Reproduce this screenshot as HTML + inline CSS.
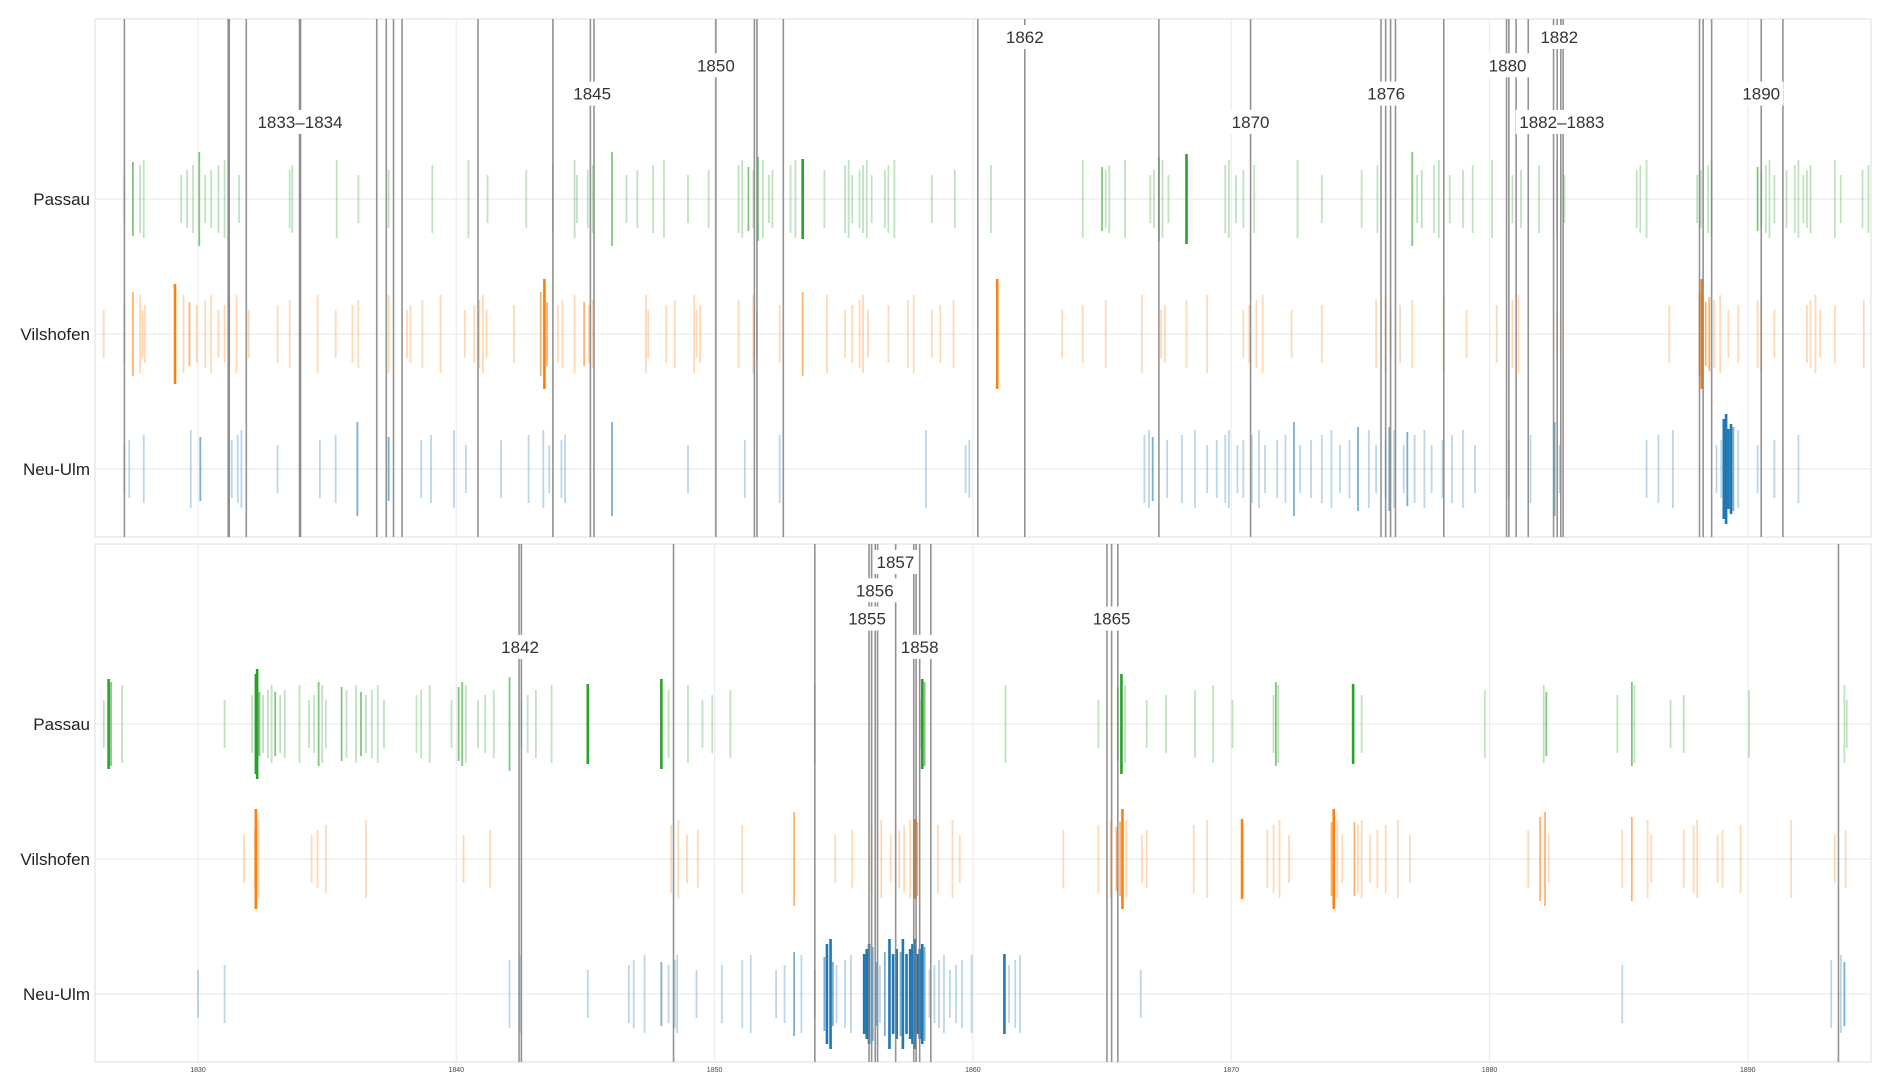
<!DOCTYPE html>
<html><head><meta charset="utf-8">
<style>
html,body{margin:0;padding:0;background:#fff;}
svg{display:block;font-family:"Liberation Sans",Arial,sans-serif;}
</style></head>
<body>
<svg id="chart" width="1892" height="1091" viewBox="0 0 1892 1091" xmlns="http://www.w3.org/2000/svg"></svg>
<script>
// ---- data ----
const stations = ["Passau","Vilshofen","Neu-Ulm"];
const stationColors = ["#2ca02c","#ff7f0e","#1f77b4"];
const xTicks = [1830,1840,1850,1860,1870,1880,1890];

// top panel events [year, strength]
const topPassau = [[1827.15,1],[1827.48,2],[1827.76,1],[1827.9,1],[1829.35,1],[1829.58,1],[1829.81,1],[1830.05,2],[1830.28,1],[1830.51,1],[1830.79,1],[1831.03,1],[1831.59,1],[1833.55,1],[1833.65,1],[1835.37,1],[1836.21,1],[1837.38,1],[1839.07,1],[1840.47,1],[1841.21,1],[1842.71,1],[1843.74,1],[1844.58,1],[1844.67,1],[1845.09,1],[1845.28,1],[1846.03,2],[1846.59,1],[1847.01,1],[1847.62,1],[1848.04,1],[1848.97,1],[1849.77,1],[1850.93,1],[1851.07,1],[1851.31,2],[1851.5,1],[1851.68,2],[1851.87,1],[1852.1,1],[1852.24,1],[1852.94,1],[1853.13,1],[1853.41,3],[1854.25,1],[1855.05,1],[1855.19,1],[1855.33,1],[1855.61,1],[1855.75,1],[1855.89,1],[1856.08,1],[1856.59,1],[1856.73,1],[1856.96,1],[1858.41,1],[1859.3,1],[1860.7,1],[1864.25,1],[1865.0,2],[1865.14,1],[1865.28,1],[1865.89,1],[1866.87,1],[1867.01,1],[1867.2,2],[1867.34,1],[1867.57,1],[1868.27,3],[1869.77,1],[1869.91,1],[1870.19,1],[1870.47,1],[1870.89,1],[1872.57,1],[1873.51,1],[1875.05,1],[1875.66,1],[1877.01,2],[1877.2,1],[1877.38,1],[1877.85,1],[1878.04,1],[1878.46,1],[1878.97,1],[1879.35,1],[1880.1,1],[1880.89,1],[1881.22,1],[1881.92,1],[1882.62,1],[1882.9,1],[1885.7,1],[1885.84,1],[1886.08,1],[1888.04,1],[1888.18,1],[1888.46,1],[1888.6,1],[1890.38,2],[1890.52,1],[1890.7,1],[1890.84,1],[1891.03,1],[1891.5,1],[1891.82,1],[1891.96,1],[1892.15,1],[1892.29,1],[1892.43,1],[1893.37,1],[1893.6,1],[1894.44,1],[1894.67,1]];
const topVilshofen = [[1826.35,1],[1827.15,1],[1827.48,2],[1827.76,1],[1827.85,1],[1827.94,1],[1829.11,3],[1829.44,1],[1829.67,2],[1829.95,1],[1830.28,1],[1830.51,1],[1830.79,1],[1831.03,1],[1831.21,1],[1831.49,1],[1831.96,1],[1833.08,1],[1833.55,1],[1834.63,1],[1835.33,1],[1835.98,1],[1836.21,1],[1837.38,1],[1838.09,1],[1838.23,1],[1838.69,1],[1839.39,1],[1840.33,1],[1840.7,1],[1840.89,1],[1841.03,1],[1841.17,1],[1842.24,1],[1843.27,2],[1843.41,3],[1843.51,2],[1843.93,1],[1844.11,1],[1844.58,1],[1844.95,2],[1845.14,1],[1845.28,1],[1847.34,1],[1847.43,1],[1848.13,1],[1848.46,1],[1849.21,1],[1849.3,1],[1849.44,1],[1850.93,1],[1851.5,1],[1851.64,1],[1852.52,1],[1853.41,2],[1854.35,1],[1855.05,1],[1855.33,1],[1855.61,1],[1855.75,1],[1855.94,1],[1856.73,1],[1857.48,1],[1857.71,1],[1858.41,1],[1858.74,1],[1859.25,1],[1860.94,3],[1863.46,1],[1864.25,1],[1865.14,1],[1866.54,1],[1867.29,1],[1867.43,1],[1868.27,1],[1869.07,1],[1870.47,1],[1870.7,1],[1870.98,1],[1871.22,1],[1872.34,1],[1873.51,1],[1875.61,1],[1875.98,1],[1876.17,1],[1876.54,1],[1877.01,1],[1878.23,1],[1879.11,1],[1880.28,1],[1880.89,1],[1881.12,1],[1882.62,1],[1886.96,1],[1888.13,2],[1888.22,3],[1888.37,2],[1888.51,2],[1888.69,1],[1888.93,1],[1889.25,1],[1889.63,1],[1890.38,1],[1890.52,1],[1891.03,1],[1892.29,1],[1892.43,1],[1892.62,1],[1892.8,1],[1893.37,1],[1894.49,1]];
const topNeuUlm = [[1827.15,1],[1827.34,1],[1827.9,1],[1829.72,1],[1830.09,2],[1831.31,1],[1831.54,1],[1831.68,1],[1833.08,1],[1834.72,1],[1835.33,1],[1836.17,2],[1837.38,2],[1838.64,1],[1839.02,1],[1839.91,1],[1840.37,1],[1841.73,1],[1842.8,1],[1843.37,1],[1843.6,1],[1844.07,1],[1844.21,1],[1846.03,2],[1848.97,1],[1851.17,1],[1852.52,1],[1858.18,1],[1859.72,1],[1859.86,1],[1866.64,1],[1866.82,1],[1866.96,2],[1867.52,1],[1868.09,1],[1868.6,1],[1869.07,1],[1869.44,1],[1869.77,1],[1869.91,1],[1870.24,1],[1870.47,1],[1870.8,1],[1871.08,1],[1871.31,1],[1871.78,1],[1872.1,1],[1872.43,2],[1872.67,1],[1873.09,1],[1873.51,1],[1873.88,1],[1874.21,1],[1874.58,1],[1874.91,2],[1875.33,1],[1875.61,1],[1875.98,1],[1876.12,2],[1876.31,1],[1876.68,1],[1876.82,2],[1877.1,1],[1877.48,1],[1877.76,1],[1878.18,1],[1878.55,1],[1878.97,1],[1879.44,1],[1880.75,1],[1881.59,1],[1882.52,2],[1882.71,1],[1886.08,1],[1886.54,1],[1887.1,1],[1888.79,1],[1888.97,1],[1889.07,3],[1889.16,3],[1889.25,3],[1889.35,3],[1889.44,2],[1889.63,1],[1890.38,1],[1891.03,1],[1891.96,1]];

// bottom panel events [year, strength]
const botPassau = [[1826.35,1],[1826.54,3],[1826.63,2],[1827.06,1],[1831.03,1],[1832.1,1],[1832.24,3],[1832.29,3],[1832.38,2],[1832.52,1],[1832.71,1],[1832.85,1],[1832.99,2],[1833.18,1],[1833.36,1],[1833.93,1],[1834.3,1],[1834.49,1],[1834.67,2],[1834.81,1],[1834.95,1],[1835.56,2],[1835.75,1],[1836.12,1],[1836.31,2],[1836.5,1],[1836.73,1],[1836.96,1],[1837.2,1],[1838.46,1],[1838.64,1],[1838.97,1],[1839.81,1],[1840.09,2],[1840.23,2],[1840.37,1],[1840.84,1],[1841.12,1],[1841.45,1],[1842.06,2],[1842.52,1],[1842.76,1],[1843.08,1],[1843.69,1],[1845.09,3],[1847.94,3],[1848.22,1],[1848.97,1],[1849.53,1],[1849.91,1],[1850.61,1],[1853.88,1],[1857.99,1],[1858.04,3],[1858.13,2],[1861.26,1],[1864.86,1],[1865.61,2],[1865.75,3],[1865.89,1],[1866.73,1],[1867.48,1],[1868.6,1],[1869.3,1],[1870.05,1],[1871.64,1],[1871.73,2],[1871.82,1],[1874.72,3],[1875.05,1],[1879.82,1],[1882.1,1],[1882.2,2],[1884.95,1],[1885.51,2],[1885.61,1],[1887.01,1],[1887.52,1],[1890.05,1],[1893.74,1],[1893.83,1]];
const botVilshofen = [[1831.78,1],[1832.2,1],[1832.24,3],[1832.34,1],[1834.4,1],[1834.63,1],[1834.95,1],[1836.5,1],[1840.28,1],[1841.31,1],[1848.32,1],[1848.6,1],[1848.93,1],[1849.35,1],[1851.07,1],[1853.08,2],[1854.67,1],[1855.33,1],[1856.08,1],[1856.45,1],[1856.82,1],[1857.15,1],[1857.34,1],[1857.57,1],[1857.76,3],[1857.85,2],[1858.65,1],[1859.21,1],[1859.49,1],[1863.5,1],[1864.86,1],[1865.33,1],[1865.56,2],[1865.7,2],[1865.79,3],[1865.94,1],[1866.54,1],[1866.73,1],[1868.55,1],[1869.07,1],[1870.42,3],[1871.4,1],[1871.64,1],[1871.87,1],[1872.24,1],[1873.88,2],[1873.97,3],[1874.11,1],[1874.3,1],[1874.77,2],[1874.91,1],[1875.05,1],[1875.38,1],[1875.66,1],[1875.98,1],[1876.45,1],[1876.92,1],[1881.5,1],[1881.96,2],[1882.15,2],[1882.29,1],[1885.14,1],[1885.51,2],[1886.12,1],[1886.26,1],[1887.52,1],[1887.9,1],[1888.04,1],[1888.83,1],[1889.02,1],[1889.72,1],[1891.68,1],[1893.37,1],[1893.79,1]];
const botNeuUlm = [[1830.0,1],[1831.03,1],[1842.06,1],[1842.48,1],[1845.09,1],[1846.68,1],[1846.87,1],[1847.29,1],[1847.94,2],[1848.22,1],[1848.46,1],[1848.55,1],[1849.3,1],[1850.28,1],[1851.07,1],[1851.4,1],[1852.38,1],[1852.71,1],[1853.08,2],[1853.36,1],[1853.88,1],[1854.25,2],[1854.35,3],[1854.49,3],[1854.58,2],[1854.72,1],[1855.05,1],[1855.28,1],[1855.79,3],[1855.89,3],[1855.98,3],[1856.12,2],[1856.26,2],[1856.4,1],[1856.59,2],[1856.77,3],[1856.91,3],[1857.05,3],[1857.2,2],[1857.29,3],[1857.43,3],[1857.57,3],[1857.66,3],[1857.76,3],[1857.85,3],[1857.94,3],[1858.04,3],[1858.13,2],[1858.32,1],[1858.51,1],[1858.69,1],[1858.88,1],[1859.11,1],[1859.35,1],[1859.58,1],[1859.95,1],[1861.22,3],[1861.4,1],[1861.64,1],[1861.82,1],[1866.5,1],[1885.14,1],[1893.23,1],[1893.6,1],[1893.74,2]];

// gray event markers (years)
const topMarkers = [1827.15,1831.17,1831.21,1831.87,1833.93,1833.97,1836.92,1837.29,1837.57,1837.9,1840.84,1843.74,1845.19,1845.33,1850.05,1851.54,1851.64,1852.66,1860.19,1862.01,1867.2,1870.75,1875.8,1875.98,1876.17,1876.36,1878.23,1880.66,1880.75,1881.03,1881.5,1882.48,1882.62,1882.76,1882.85,1888.13,1888.27,1888.6,1890.52,1891.36];
const botMarkers = [1842.43,1842.52,1848.41,1853.88,1855.98,1856.08,1856.22,1856.31,1857.01,1857.71,1857.8,1857.94,1858.37,1865.19,1865.37,1865.61,1893.51];
const topLabelText = ["1833–1834","1845","1850","1862","1870","1876","1880","1882","1882–1883","1890"];
const topLabelYear = [1833.95,1845.26,1850.05,1862.01,1870.75,1876.0,1880.7,1882.7,1882.8,1890.52];
const topLabelLevel = [3,2,1,0,3,2,1,0,3,2];
const botLabelText = ["1842","1855","1856","1857","1858","1865"];
const botLabelYear = [1842.47,1855.9,1856.2,1857.0,1857.94,1865.37];
const botLabelLevel = [3,2,1,0,3,2];

// ---- layout ----
const NS = "http://www.w3.org/2000/svg";
const svg = document.getElementById('chart');
const X0 = 95, X1 = 1871;
function xScale(yr){ return 198 + (yr - 1830) * 25.83; }
function mk(tag, attrs, parent){ const e=document.createElementNS(NS,tag); for(const k in attrs) e.setAttribute(k, attrs[k]); (parent||svg).appendChild(e); return e; }

const panels = [
  {top:19, bottom:537, rows:[199,334,469], series:[topPassau,topVilshofen,topNeuUlm], markers:topMarkers, lt:topLabelText, ly:topLabelYear, ll:topLabelLevel, lbase:37, name:'top'},
  {top:544, bottom:1062, rows:[724,859,994], series:[botPassau,botVilshofen,botNeuUlm], markers:botMarkers, lt:botLabelText, ly:botLabelYear, ll:botLabelLevel, lbase:562, name:'bottom'}
];
const alphas = [0, 0.3, 0.6, 1];

panels.forEach(p => {
  const g = mk('g', {});
  
  
  const frame = mk('rect', {x:X0, y:p.top, width:X1-X0, height:p.bottom-p.top, fill:'#fff', stroke:'#e2e2e2', 'stroke-width':1.2}, g);
  
  
  xTicks.forEach(t => {
    const gl = mk('line', {x1:xScale(t), x2:xScale(t), y1:p.top, y2:p.bottom, stroke:'#ececec', 'stroke-width':1.2}, g);
    
    
  });
  p.rows.forEach((ry, si) => {
    const hl = mk('line', {x1:X0, x2:X1, y1:ry, y2:ry, stroke:'#ececec', 'stroke-width':1.2}, g);
    
    
    const lab = mk('text', {x:90, y:ry+6, 'text-anchor':'end', 'font-size':17, fill:'#222'}, g);
    lab.textContent = stations[si];
    
    
  });
  p.series.forEach((arr, si) => {
    const ry = p.rows[si];
    arr.forEach((d, i) => {
      const half = 16 + 8*d[1] + (i % 4) * 5;
      const x = xScale(d[0]);
      const t = mk('line', {x1:x, x2:x, y1:ry-half, y2:ry+half, stroke:stationColors[si], 'stroke-opacity':alphas[d[1]], 'stroke-width': d[1]===3 ? 2.6 : 1.8}, g);
      
      
    });
  });
  p.markers.forEach(m => {
    const x = xScale(m);
    const l = mk('line', {x1:x, x2:x, y1:p.top, y2:p.bottom, stroke:'#808080', 'stroke-opacity':0.85, 'stroke-width':1.6}, g);
    
    
  });
  p.lt.forEach((txt, i) => {
    const x = xScale(p.ly[i]);
    const y = p.lbase + p.ll[i] * 28.3;
    const w = txt.length * 9.6 + 6;
    const bg = mk('rect', {x:x-w/2, y:y-12, width:w, height:24, fill:'#fff'}, g);
    
    
    const t = mk('text', {x:x, y:y+6, 'text-anchor':'middle', 'font-size':17, fill:'#333'}, g);
    t.textContent = txt;
    
    
  });
});
xTicks.forEach(t => {
  const tl = mk('text', {x:xScale(t), y:1072, 'text-anchor':'middle', 'font-size':7, fill:'#444'});
  tl.textContent = t;
  
  
});
</script>
</body></html>
